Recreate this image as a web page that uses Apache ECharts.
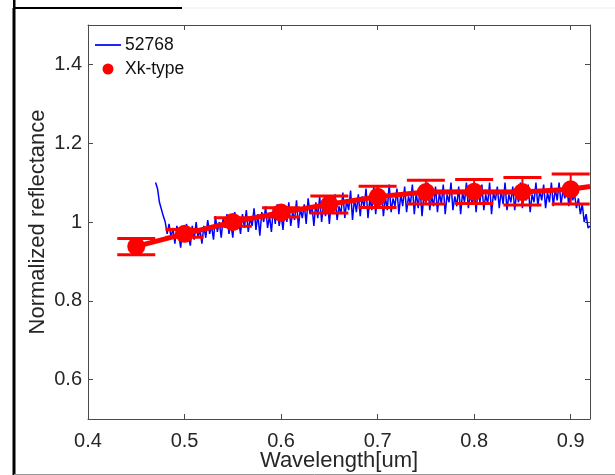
<!DOCTYPE html>
<html>
<head>
<meta charset="utf-8">
<script src="https://cdn.jsdelivr.net/npm/echarts@6/dist/echarts.min.js"></script>
<style>html,body{margin:0;padding:0;background:#fff;}#c{width:615px;height:475px;}</style>
</head>
<body>
<div id="c"></div>
<script>
// ---- Data ----
const xTicks = [0.4, 0.5, 0.6, 0.7, 0.8, 0.9];
const yTicks = [0.6, 0.8, 1.0, 1.2, 1.4];

const specWl = [
0.470,0.472,0.474,0.476,0.478,0.480,0.482,
0.484,0.486,0.488,0.490,0.492,0.494,0.496,0.498,0.500,0.502,0.504,0.506,0.508,0.510,0.512,0.514,0.516,0.518,0.520,
0.522,0.524,0.526,0.528,0.530,0.532,0.534,0.536,0.538,0.540,0.542,0.544,0.546,0.548,0.550,0.552,0.554,0.556,0.558,0.560,
0.562,0.564,0.566,0.568,0.570,0.572,0.574,0.576,0.578,0.580,0.582,0.584,0.586,0.588,0.590,0.592,0.594,0.596,0.598,0.600,
0.602,0.604,0.606,0.608,0.610,0.612,0.614,0.616,0.618,0.620,0.622,0.624,0.626,0.628,0.630,0.632,0.634,0.636,0.638,0.640,
0.642,0.644,0.646,0.648,0.650,0.652,0.654,0.656,0.658,0.660,0.662,0.664,0.666,0.668,0.670,0.672,0.674,0.676,0.678,0.680,
0.682,0.684,0.686,0.688,0.690,0.692,0.694,0.696,0.698,0.700,0.702,0.704,0.706,0.708,0.710,0.712,0.714,0.716,0.718,0.720,
0.722,0.724,0.726,0.728,0.730,0.732,0.734,0.736,0.738,0.740,0.742,0.744,0.746,0.748,0.750,0.752,0.754,0.756,0.758,0.760,
0.762,0.764,0.766,0.768,0.770,0.772,0.774,0.776,0.778,0.780,0.782,0.784,0.786,0.788,0.790,0.792,0.794,0.796,0.798,0.800,
0.802,0.804,0.806,0.808,0.810,0.812,0.814,0.816,0.818,0.820,0.822,0.824,0.826,0.828,0.830,0.832,0.834,0.836,0.838,0.840,
0.842,0.844,0.846,0.848,0.850,0.852,0.854,0.856,0.858,0.860,0.862,0.864,0.866,0.868,0.870,0.872,0.874,0.876,0.878,0.880,
0.882,0.884,0.886,0.888,0.890,0.892,0.894,0.896,0.898,0.900,0.902,0.904,
0.906,0.908,0.910,0.912,0.914,0.916,0.918,0.920
];
const specRefl = [
1.10,1.085,1.05,1.045,1.015,1.0,0.97,
0.995,0.96,0.985,0.945,0.99,0.97,0.935,0.985,0.95,0.995,0.965,0.94,0.99,0.955,1.0,0.96,0.98,0.945,0.99,
0.96,1.005,0.97,0.99,0.955,1.015,0.975,1.0,0.96,1.01,0.985,1.02,0.97,0.995,0.96,1.025,0.98,1.005,0.97,1.02,
0.985,1.03,0.975,1.01,0.99,1.035,0.98,1.02,0.965,1.025,1.0,1.04,0.985,1.015,0.975,1.035,0.995,1.045,0.99,1.02,
0.98,1.04,1.0,1.05,0.99,1.025,1.005,1.055,0.985,1.035,1.01,1.045,0.995,1.06,1.02,1.04,0.99,1.05,1.01,1.065,
1.0,1.045,1.015,1.06,0.995,1.05,1.025,1.07,1.005,1.04,1.02,1.075,1.01,1.055,1.03,1.08,1.005,1.06,1.025,1.07,
1.015,1.065,1.035,1.085,1.01,1.06,1.03,1.09,1.02,1.07,1.04,1.08,1.015,1.065,1.03,1.095,1.025,1.06,1.04,1.085,
1.02,1.07,1.04,1.09,1.025,1.065,1.045,1.095,1.02,1.075,1.035,1.085,1.015,1.07,1.045,1.1,1.03,1.065,1.04,1.09,
1.025,1.075,1.045,1.095,1.02,1.07,1.05,1.1,1.03,1.065,1.04,1.09,1.02,1.075,1.05,1.1,1.035,1.07,1.045,1.095,
1.025,1.08,1.05,1.095,1.03,1.07,1.045,1.1,1.02,1.075,1.055,1.09,1.035,1.08,1.045,1.1,1.03,1.07,1.05,1.09,
1.03,1.075,1.05,1.1,1.035,1.08,1.055,1.095,1.025,1.07,1.05,1.1,1.04,1.08,1.055,1.095,1.035,1.075,1.05,1.1,
1.04,1.085,1.055,1.1,1.045,1.08,1.06,1.095,1.04,1.085,1.055,1.07,
1.035,1.06,1.02,1.045,1.0,1.02,0.985,0.99
];

const typeWl   = [0.45, 0.50, 0.55, 0.60, 0.65, 0.70, 0.75, 0.80, 0.85, 0.90];
const typeRefl = [0.938, 0.970, 1.000, 1.024, 1.045, 1.064, 1.076, 1.077, 1.076, 1.083];
const typeLow  = [0.917, 0.961, 0.989, 1.013, 1.023, 1.037, 1.046, 1.047, 1.043, 1.046];
const typeHigh = [0.958, 0.981, 1.011, 1.036, 1.066, 1.091, 1.106, 1.108, 1.113, 1.122];
const trendWl   = [0.45, 0.50, 0.55, 0.60, 0.65, 0.70, 0.75, 0.80, 0.85, 0.90, 0.92];
const trendRefl = [0.938, 0.970, 1.000, 1.024, 1.045, 1.064, 1.076, 1.077, 1.076, 1.083, 1.09];

const seriesNames = ['52768', 'Xk-type'];

// ---- Build ----
const specData = specWl.map((w, i) => [w, specRefl[i]]);
const typeData = typeWl.map((w, i) => [w, typeRefl[i]]);
const errData = typeWl.map((w, i) => [w, typeLow[i], typeHigh[i]]);
const trendData = trendWl.map((w, i) => [w, trendRefl[i]]);

const FONT = "'Liberation Sans', Arial, Helvetica, sans-serif";
const AX = '#4a4a4a';
const TXT = '#262626';
const RED = '#ff0000';
const BLUE = '#0000ff';

const chart = echarts.init(document.getElementById('c'), null, {renderer: 'canvas'});

const xBase = {
  type: 'value', min: 0.4, max: 0.92, interval: 0.1,
  axisLine: {show: true, onZero: false, lineStyle: {color: AX, width: 1}},
  splitLine: {show: false}
};
const yBase = {
  type: 'value', min: 0.5, max: 1.5,
  axisLine: {show: true, onZero: false, lineStyle: {color: AX, width: 1}},
  splitLine: {show: false}
};

chart.setOption({
  animation: false,
  backgroundColor: '#fff',
  textStyle: {fontFamily: FONT},
  grid: {left: 88, right: 25, top: 25, bottom: 56, containLabel: false, outerBoundsMode: 'none'},
  legend: {
    left: 90, top: 31, orient: 'vertical',
    itemWidth: 26, itemHeight: 11, itemGap: 6,
    data: [
      {name: seriesNames[0], icon: 'path://M0,0 L30,0 L30,2 L0,2 Z', itemStyle: {color: BLUE}},
      {name: seriesNames[1], icon: 'circle', itemStyle: {color: RED, opacity: 1}}
    ],
    textStyle: {color: '#111', fontSize: 17.5, fontFamily: FONT, padding: [0, 0, 0, -1]},
    selectedMode: false
  },
  xAxis: [
    Object.assign({}, xBase, {
      position: 'bottom',
      name: 'Wavelength[um]', nameLocation: 'middle', nameGap: 31, nameMoveOverlap: false,
      nameTextStyle: {fontSize: 22, color: TXT, fontFamily: FONT},
      axisTick: {show: true, inside: true, length: 5, customValues: xTicks, lineStyle: {color: AX}},
      axisLabel: {show: true, customValues: xTicks, margin: 12, fontSize: 20, color: TXT, fontFamily: FONT}
    }),
    Object.assign({}, xBase, {
      position: 'top',
      axisTick: {show: true, inside: true, length: 5, customValues: xTicks, lineStyle: {color: AX}},
      axisLabel: {show: false}
    })
  ],
  yAxis: [
    Object.assign({}, yBase, {
      position: 'left',
      name: 'Normalized reflectance', nameLocation: 'middle', nameGap: 39, nameMoveOverlap: false,
      nameTextStyle: {fontSize: 22, color: TXT, fontFamily: FONT},
      axisTick: {show: true, inside: true, length: 5, customValues: yTicks, lineStyle: {color: AX}},
      axisLabel: {show: true, customValues: yTicks, margin: 6, fontSize: 20, color: TXT, fontFamily: FONT}
    }),
    Object.assign({}, yBase, {
      position: 'right',
      axisTick: {show: true, inside: true, length: 5, customValues: yTicks, lineStyle: {color: AX}},
      axisLabel: {show: false}
    })
  ],
  series: [
    {
      name: seriesNames[0], type: 'line', data: specData,
      xAxisIndex: 0, yAxisIndex: 0,
      symbol: 'none', lineStyle: {color: BLUE, width: 1.5}, itemStyle: {color: BLUE},
      z: 2
    },
    {
      name: 'errbar', type: 'custom', data: errData,
      xAxisIndex: 0, yAxisIndex: 0,
      encode: {x: 0, y: [1, 2]},
      renderItem: function (params, api) {
        const x = api.value(0);
        const lo = api.coord([x, api.value(1)]);
        const hi = api.coord([x, api.value(2)]);
        const hw = 19;
        return {
          type: 'group',
          children: [
            {type: 'line', shape: {x1: lo[0], y1: lo[1], x2: hi[0], y2: hi[1]}, style: {stroke: RED, lineWidth: 2}},
            {type: 'line', shape: {x1: lo[0] - hw, y1: lo[1], x2: lo[0] + hw, y2: lo[1]}, style: {stroke: RED, lineWidth: 3}},
            {type: 'line', shape: {x1: hi[0] - hw, y1: hi[1], x2: hi[0] + hw, y2: hi[1]}, style: {stroke: RED, lineWidth: 3}}
          ]
        };
      },
      z: 3
    },
    {
      name: 'trend', type: 'line', data: trendData,
      xAxisIndex: 0, yAxisIndex: 0,
      symbol: 'none', lineStyle: {color: RED, width: 5}, z: 4
    },
    {
      name: seriesNames[1], type: 'scatter', data: typeData,
      xAxisIndex: 0, yAxisIndex: 0,
      symbol: 'circle', symbolSize: 18, itemStyle: {color: RED, opacity: 1}, z: 5
    }
  ],
  graphic: [
    {type: 'line', silent: true, shape: {x1: 14, y1: 0, x2: 14, y2: 475}, style: {stroke: '#000', lineWidth: 3}},
    {type: 'line', silent: true, shape: {x1: 13, y1: 8, x2: 182, y2: 8}, style: {stroke: '#000', lineWidth: 2}},
    {type: 'line', silent: true, shape: {x1: 182, y1: 8, x2: 615, y2: 8}, style: {stroke: '#eeeeee', lineWidth: 1}},
    {type: 'line', silent: true, shape: {x1: 14, y1: 474.5, x2: 615, y2: 474.5}, style: {stroke: '#9a9a9a', lineWidth: 1}},
    {type: 'rect', silent: true, shape: {x: 0, y: 0, width: 13, height: 8}, style: {fill: '#fff'}}
  ]
});
</script>
</body>
</html>
